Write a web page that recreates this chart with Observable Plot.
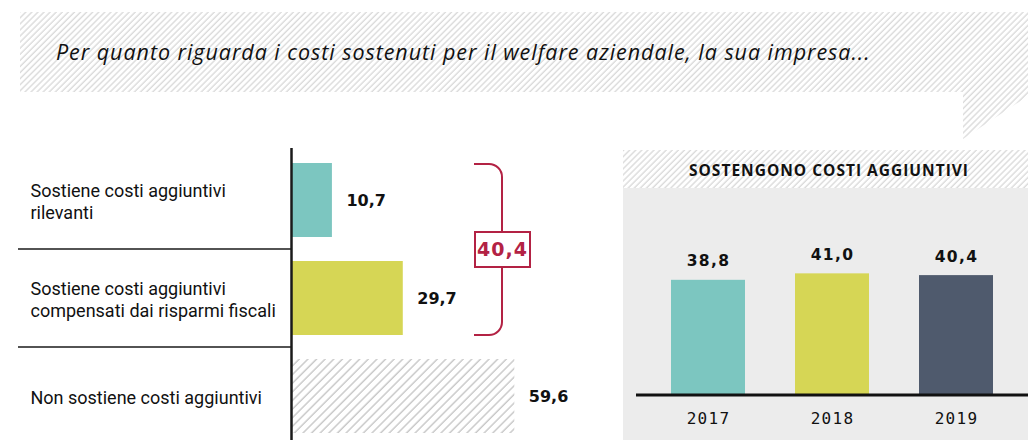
<!DOCTYPE html>
<html>
<head>
<meta charset="utf-8">
<script src="https://cdn.jsdelivr.net/npm/d3@7"></script>
<script src="https://cdn.jsdelivr.net/npm/@observablehq/plot@0.6"></script>
<style>
  html, body { margin: 0; padding: 0; background: #fff; }
  #root { position: relative; width: 1028px; height: 440px; overflow: hidden; background: #fff; }
  .abs { position: absolute; }
  #title { left: 56px; top: 37px; font-family: "Open Sans", sans-serif; font-style: italic; font-size: 21.5px; letter-spacing: 0.95px; color: #111; white-space: nowrap; line-height: 30px; }
  #rhead { left: 623px; top: 150px; width: 405px; height: 38px; line-height: 40px; text-align: center; font-family: "Open Sans", sans-serif; font-weight: 700; font-size: 15.5px; letter-spacing: 1px; color: #111; padding-left: 7px; box-sizing: border-box; }
</style>
</head>
<body>
<div id="root">
  <svg class="abs" style="left:0;top:0" width="1028" height="440">
    <defs>
      <pattern id="hatchLight" patternUnits="userSpaceOnUse" width="4.3" height="4.3" patternTransform="rotate(45)">
        <line x1="1" y1="-1" x2="1" y2="6" stroke="#d8d8d8" stroke-width="1.3"></line>
      </pattern>
      <pattern id="hatchBar" patternUnits="userSpaceOnUse" width="6.1" height="6.1" patternTransform="rotate(45)">
        <line x1="1" y1="-1" x2="1" y2="8" stroke="#c2c2c2" stroke-width="1.3"></line>
      </pattern>
    </defs>
    <rect x="20" y="12" width="1008" height="80" fill="url(#hatchLight)"></rect>
    <polygon points="963,92 1028,92 1028,96 963,139" fill="url(#hatchLight)"></polygon>
    <rect x="623" y="150" width="405" height="38" fill="url(#hatchLight)"></rect>
  </svg>
  <div id="title" class="abs">Per quanto riguarda i costi sostenuti per il welfare aziendale, la sua impresa...</div>
  <div id="rhead" class="abs">SOSTENGONO COSTI AGGIUNTIVI</div>
  <div id="left" class="abs" style="left:0;top:148px"></div>
  <div id="right" class="abs" style="left:623px;top:188px"></div>
</div>
<script>
// ---- data ----
const categories = [
  "Sostiene costi aggiuntivi rilevanti",
  "Sostiene costi aggiuntivi compensati dai risparmi fiscali",
  "Non sostiene costi aggiuntivi"
];
const categoryLabels = [
  "Sostiene costi aggiuntivi\nrilevanti",
  "Sostiene costi aggiuntivi\ncompensati dai risparmi fiscali",
  "Non sostiene costi aggiuntivi"
];
const shareValues = [10.7, 29.7, 59.6];
const shareColors = ["#7cc6c0", "#d6d655", "url(#hatchBar)"];
const years = ["2017", "2018", "2019"];
const yearValues = [38.8, 41.0, 40.4];
const yearColors = ["#7cc6c0", "#d6d655", "#4f5a6d"];

const fmt = v => d3.format(".1f")(v).replace(".", ",");
const RED = "#b32244";

const leftData = categories.map((c, i) => ({cat: c, label: categoryLabels[i], value: shareValues[i], color: shareColors[i]}));
const rightData = years.map((y, i) => ({year: y, value: yearValues[i], color: yearColors[i]}));

// custom annotation mark: row separators and bracket with total
function annotations(index, scales) {
  const x = scales.x, y = scales.y;
  const bw = y.bandwidth(), step = y.step();
  const g = d3.create("svg:g");
  for (const c of categories.slice(1)) {
    const yy = y(c) - (step - bw) / 2;
    g.append("line").attr("x1", 18).attr("x2", x(0) - 1).attr("y1", yy).attr("y2", yy)
      .attr("stroke", "#1a1a1a").attr("stroke-width", 1.5);
  }
  const top = y(categories[0]) + 1, bot = y(categories[1]) + bw;
  const xl = 474, xv = 502, r = 13;
  const mid = (top + bot) / 2, bh = 35, bwid = 55;
  const total = shareValues[0] + shareValues[1];
  g.append("path")
    .attr("d", `M${xl},${top}H${xv - r}A${r},${r} 0 0 1 ${xv},${top + r}V${mid - bh / 2}` +
               `M${xv},${mid + bh / 2}V${bot - r}A${r},${r} 0 0 1 ${xv - r},${bot}H${xl}`)
    .attr("fill", "none").attr("stroke", RED).attr("stroke-width", 2);
  g.append("rect").attr("x", xv - 27).attr("y", mid - bh / 2).attr("width", bwid).attr("height", bh)
    .attr("fill", "#fff").attr("stroke", RED).attr("stroke-width", 2);
  g.append("text").attr("x", xv + 0.5).attr("y", mid).attr("dy", "0.36em").attr("text-anchor", "middle")
    .attr("fill", RED).attr("font-family", "DejaVu Sans, sans-serif").attr("font-weight", "bold")
    .attr("font-size", 19).attr("letter-spacing", 1).text(fmt(total));
  return g.node();
}

const left = Plot.plot({
  width: 620,
  height: 292,
  marginTop: 0, marginBottom: 0, marginRight: 0, marginLeft: 30,
  style: {background: "transparent", overflow: "visible"},
  x: {domain: [0, 100], range: [292, 292 + 373], axis: null},
  y: {type: "band", domain: categories, range: [1.5, 297.5], paddingInner: 0.25, paddingOuter: 0.125, axis: null},
  color: {type: "identity"},
  marks: [
    Plot.barX(leftData, {x: "value", y: "cat", fill: "color"}),
    Plot.ruleX([0], {dx: -1, stroke: "#1a1a1a", strokeWidth: 2.5}),
    Plot.text(leftData, {y: "cat", text: "label", frameAnchor: "left", textAnchor: "start",
      fontFamily: "Roboto, sans-serif", fontSize: 18, lineHeight: 1.22, fill: "#111"}),
    Plot.text(leftData, {x: "value", y: "cat", text: d => fmt(d.value), textAnchor: "start", dx: 14,
      fontFamily: "DejaVu Sans, sans-serif", fontWeight: "bold", fontSize: 16, fill: "#111"}),
    annotations
  ]
});
left.querySelectorAll("text").forEach(t => {
  if (t.getAttribute("font-weight") === "bold") t.setAttribute("letter-spacing", "1");
  else if (t.getAttribute("font-family") && t.getAttribute("font-family").startsWith("Roboto")) t.setAttribute("letter-spacing", "-0.15");
});
document.getElementById("left").appendChild(left);

const right = Plot.plot({
  width: 405,
  height: 252,
  marginTop: 0, marginBottom: 0, marginRight: 0, marginLeft: 13,
  style: {background: "#ececec", overflow: "visible"},
  x: {type: "band", domain: years, range: [23, 395], paddingInner: 0.4032, paddingOuter: 0.2016, axis: null},
  y: {domain: [0, 70], range: [206, 0], axis: null},
  color: {type: "identity"},
  marks: [
    Plot.barY(rightData, {x: "year", y: "value", fill: "color"}),
    Plot.ruleY([0], {stroke: "#111", strokeWidth: 3, dy: 0.5}),
    Plot.text(rightData, {x: "year", y: "value", text: d => fmt(d.value), dy: -19, lineAnchor: "middle",
      fontFamily: "DejaVu Sans, sans-serif", fontWeight: "bold", fontSize: 15.5, fill: "#111"}),
    Plot.text(rightData, {x: "year", y: 0, text: "year", dy: 24, lineAnchor: "middle",
      fontFamily: "DejaVu Sans Mono, monospace", fontSize: 16, fill: "#111"})
  ]
});
right.querySelectorAll("text").forEach(t => t.setAttribute("letter-spacing", "1.3"));
document.getElementById("right").appendChild(right);
</script>
</body>
</html>
